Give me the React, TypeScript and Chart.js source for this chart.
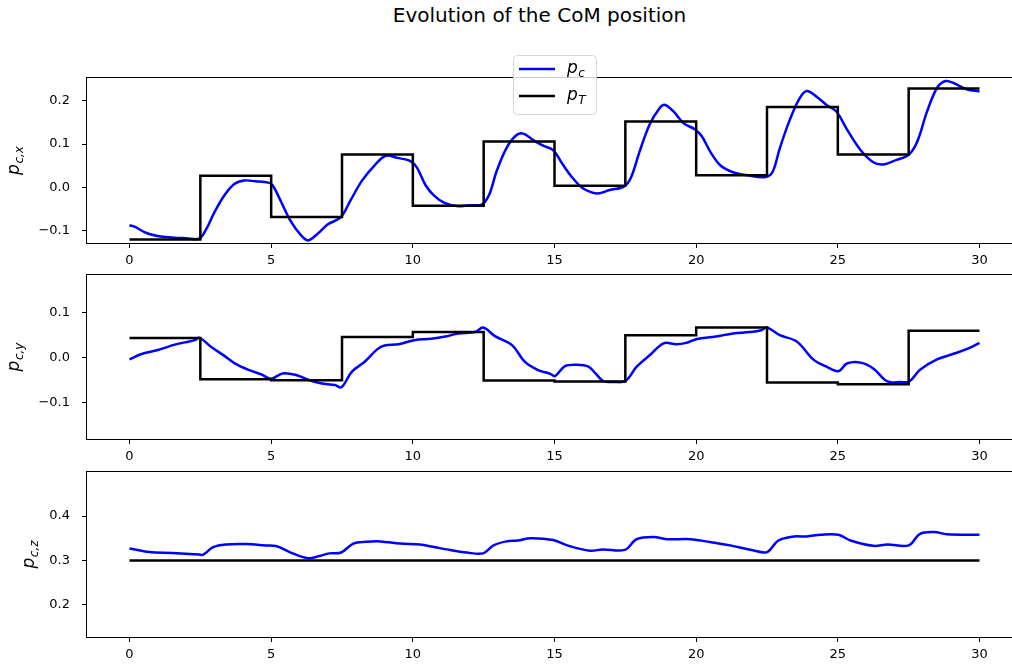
import React, { useEffect, useRef } from 'react';
import { Chart, registerables } from 'chart.js';

Chart.register(...registerables);

// ---- data ----
const xTickValues = [0, 5, 10, 15, 20, 25, 30];

// reference (target) positions: piecewise constant, one value per step start
const stepTimes = [0, 2.5, 5, 7.5, 10, 12.5, 15, 17.5, 20, 22.5, 25, 27.5, 30];
const targetX = [-0.12, 0.027, -0.068, 0.076, -0.042, 0.106, 0.004, 0.152, 0.028, 0.185, 0.076, 0.228, 0.228];
const targetY = [0.044, -0.048, -0.05, 0.046, 0.057, -0.051, -0.053, 0.05, 0.067, -0.055, -0.059, 0.06, 0.06];
const targetZTimes = [0, 30];
const targetZ = [0.3, 0.3];

// measured CoM position
const comXTimes = [0, 0.2, 0.6, 1.1, 1.6, 2.0, 2.45, 2.7, 3.0, 3.35, 3.7, 4.05, 4.45, 4.9, 5.05, 5.35, 5.7, 6.05, 6.3, 6.65, 7.0, 7.45, 7.8, 8.2, 8.65, 9.05, 9.45, 9.9, 10.15, 10.45, 10.75, 11.1, 11.55, 12.0, 12.45, 12.7, 12.95, 13.3, 13.65, 13.9, 14.25, 14.6, 14.95, 15.3, 15.65, 16.0, 16.5, 16.95, 17.45, 17.7, 18.0, 18.35, 18.7, 18.9, 19.2, 19.55, 19.95, 20.2, 20.5, 20.85, 21.3, 21.8, 22.45, 22.7, 22.95, 23.3, 23.65, 23.9, 24.25, 24.6, 24.95, 25.3, 25.8, 26.25, 26.6, 27.05, 27.5, 27.8, 28.15, 28.5, 28.8, 29.1, 29.55, 30.0];
const comX = [-0.087, -0.091, -0.105, -0.113, -0.116, -0.117, -0.118, -0.097, -0.057, -0.018, 0.008, 0.016, 0.014, 0.011, 0.005, -0.033, -0.079, -0.11, -0.122, -0.106, -0.085, -0.069, -0.03, 0.015, 0.051, 0.073, 0.068, 0.061, 0.045, 0.005, -0.019, -0.035, -0.043, -0.041, -0.039, -0.016, 0.036, 0.09, 0.12, 0.124, 0.109, 0.096, 0.086, 0.052, 0.021, -0.002, -0.014, -0.006, 0.002, 0.023, 0.082, 0.144, 0.182, 0.19, 0.175, 0.148, 0.134, 0.118, 0.082, 0.051, 0.035, 0.028, 0.024, 0.036, 0.09, 0.155, 0.205, 0.222, 0.209, 0.19, 0.175, 0.136, 0.086, 0.058, 0.053, 0.063, 0.075, 0.105, 0.175, 0.229, 0.245, 0.24, 0.226, 0.221];

const comYTimes = [0, 0.4, 1.0, 1.6, 1.95, 2.3, 2.47, 2.9, 3.35, 3.7, 4.2, 4.65, 5.0, 5.4, 5.85, 6.3, 6.75, 7.25, 7.48, 7.85, 8.3, 8.75, 9.0, 9.5, 10.05, 10.65, 11.15, 11.6, 12.2, 12.48, 12.9, 13.5, 13.95, 14.4, 14.85, 15.02, 15.37, 15.78, 16.2, 16.45, 16.72, 17.07, 17.5, 17.9, 18.37, 18.85, 19.3, 19.65, 20.0, 20.7, 21.3, 21.9, 22.3, 22.5, 22.95, 23.55, 24.15, 24.6, 25.02, 25.32, 25.8, 26.25, 26.75, 27.2, 27.52, 27.9, 28.5, 29.2, 29.65, 30.0];
const comY = [-0.004, 0.0075, 0.017, 0.029, 0.034, 0.039, 0.044, 0.023, 0.004, -0.012, -0.027, -0.037, -0.047, -0.035, -0.038, -0.049, -0.057, -0.061, -0.066, -0.031, -0.009, 0.019, 0.027, 0.03, 0.039, 0.042, 0.047, 0.054, 0.057, 0.067, 0.048, 0.028, -0.009, -0.027, -0.036, -0.041, -0.019, -0.016, -0.02, -0.035, -0.052, -0.054, -0.052, -0.02, 0.006, 0.032, 0.03, 0.033, 0.041, 0.047, 0.054, 0.057, 0.061, 0.067, 0.05, 0.036, -0.005, -0.02, -0.03, -0.013, -0.011, -0.024, -0.053, -0.054, -0.053, -0.027, -0.004, 0.011, 0.022, 0.033];

const comZTimes = [0, 0.7, 1.5, 2.45, 2.6, 2.95, 3.4, 4.1, 4.8, 5.2, 5.65, 6.3, 6.7, 7.05, 7.47, 7.9, 8.35, 8.85, 9.55, 10.25, 10.7, 11.2, 11.9, 12.48, 12.85, 13.3, 13.7, 14.15, 14.95, 15.45, 16.25, 16.7, 17.48, 17.9, 18.5, 18.95, 19.8, 20.35, 21.2, 22.0, 22.5, 22.9, 23.45, 23.9, 24.4, 25.02, 25.45, 26.25, 26.75, 27.5, 27.9, 28.4, 28.85, 30.0];
const comZ = [0.327, 0.319, 0.317, 0.3135, 0.313, 0.33, 0.336, 0.337, 0.334, 0.332, 0.319, 0.305, 0.31, 0.316, 0.318, 0.338, 0.342, 0.343, 0.338, 0.336, 0.331, 0.325, 0.318, 0.316, 0.334, 0.343, 0.345, 0.35, 0.346, 0.334, 0.322, 0.325, 0.324, 0.348, 0.353, 0.348, 0.348, 0.343, 0.334, 0.323, 0.319, 0.345, 0.354, 0.354, 0.358, 0.358, 0.345, 0.333, 0.336, 0.334, 0.36, 0.364, 0.359, 0.358];

const yTicksX = [-0.1, 0, 0.1, 0.2];
const yTicksY = [-0.1, 0, 0.1];
const yTicksZ = [0.2, 0.3, 0.4];

// ---- layout ----
const CANVAS_W = 1030;
const CANVAS_H = 668;
const AREA_LEFT = 87;
const AREA_RIGHT = 1022;
const X_AXIS_H = 30;
const FONT = '"DejaVu Sans", "Liberation Sans", sans-serif';
const TICK_SIZE = 13;
const MATH_SIZE = 17;

type Panel = {
  top: number;
  bottom: number;
  yMin: number;
  yMax: number;
  yTicks: number[];
  sub: string;
  labelX: number;
  comT: number[];
  com: number[];
  refT: number[];
  ref: number[];
  legend: boolean;
};

const panels: Panel[] = [
  { top: 78, bottom: 243, yMin: -0.128, yMax: 0.252, yTicks: yTicksX, sub: 'c,x', labelX: 16, comT: comXTimes, com: comX, refT: stepTimes, ref: targetX, legend: true },
  { top: 275, bottom: 439, yMin: -0.181, yMax: 0.184, yTicks: yTicksY, sub: 'c,y', labelX: 16, comT: comYTimes, com: comY, refT: stepTimes, ref: targetY, legend: false },
  { top: 472, bottom: 637, yMin: 0.128, yMax: 0.499, yTicks: yTicksZ, sub: 'c,z', labelX: 31, comT: comZTimes, com: comZ, refT: targetZTimes, ref: targetZ, legend: false },
];

const fmtY = (v: number) => (v < -1e-9 ? '\u2212' : '') + Math.abs(v).toFixed(1);

// draws "p" followed by a smaller lowered subscript, starting at (x, baseline)
function drawMathLabel(ctx: CanvasRenderingContext2D, sub: string, x: number, baseline: number, size: number) {
  ctx.font = `italic ${size}px ${FONT}`;
  const wp = ctx.measureText('p').width;
  ctx.fillText('p', x, baseline);
  ctx.font = `italic ${Math.round(size * 0.7)}px ${FONT}`;
  ctx.fillText(sub, x + wp + 0.5, baseline + size * 0.22);
}

function mathLabelWidth(ctx: CanvasRenderingContext2D, sub: string, size: number) {
  ctx.font = `italic ${size}px ${FONT}`;
  const wp = ctx.measureText('p').width;
  ctx.font = `italic ${Math.round(size * 0.7)}px ${FONT}`;
  return wp + 0.5 + ctx.measureText(sub).width;
}

const framePlugin = {
  id: 'frame',
  afterDatasetsDraw(chart: any) {
    const { ctx, chartArea } = chart;
    ctx.save();
    ctx.strokeStyle = '#000';
    ctx.lineWidth = 1;
    ctx.strokeRect(chartArea.left - 0.5, chartArea.top - 0.5, chartArea.right - chartArea.left + 1, chartArea.bottom - chartArea.top + 1);
    ctx.restore();
  },
};

function axisLabelPlugin(panel: Panel) {
  return {
    id: 'axisLabel',
    afterDraw(chart: any) {
      const { ctx, chartArea } = chart;
      const cy = (chartArea.top + chartArea.bottom) / 2;
      ctx.save();
      ctx.fillStyle = '#000';
      ctx.textBaseline = 'alphabetic';
      ctx.textAlign = 'left';
      ctx.translate(panel.labelX, cy);
      ctx.rotate(-Math.PI / 2);
      const w = mathLabelWidth(ctx, panel.sub, MATH_SIZE);
      drawMathLabel(ctx, panel.sub, -w / 2, 3, MATH_SIZE);
      ctx.restore();
    },
  };
}

const legendPlugin = {
  id: 'customLegend',
  afterDraw(chart: any) {
    const { ctx } = chart;
    const x0 = 513.5, y0 = 55.5, w = 83, h = 59, r = 4;
    ctx.save();
    ctx.beginPath();
    ctx.moveTo(x0 + r, y0);
    ctx.arcTo(x0 + w, y0, x0 + w, y0 + h, r);
    ctx.arcTo(x0 + w, y0 + h, x0, y0 + h, r);
    ctx.arcTo(x0, y0 + h, x0, y0, r);
    ctx.arcTo(x0, y0, x0 + w, y0, r);
    ctx.closePath();
    ctx.fillStyle = 'rgba(255,255,255,0.8)';
    ctx.fill();
    ctx.strokeStyle = '#d6d6d6';
    ctx.lineWidth = 1;
    ctx.stroke();
    const entries = [
      { color: '#0000ff', sub: 'c', y: 69 },
      { color: '#000000', sub: 'T', y: 96 },
    ];
    entries.forEach((e) => {
      ctx.beginPath();
      ctx.strokeStyle = e.color;
      ctx.lineWidth = 2.5;
      ctx.moveTo(519, e.y);
      ctx.lineTo(555, e.y);
      ctx.stroke();
      ctx.fillStyle = '#000';
      ctx.textBaseline = 'alphabetic';
      ctx.textAlign = 'left';
      drawMathLabel(ctx, e.sub, 567, e.y + 4, MATH_SIZE);
    });
    ctx.restore();
  },
};

function makeConfig(panel: Panel): any {
  const tickFont = { family: FONT, size: TICK_SIZE };
  const plugins: any[] = [framePlugin, axisLabelPlugin(panel)];
  if (panel.legend) plugins.push(legendPlugin);
  return {
    type: 'line',
    data: {
      datasets: [
        {
          label: 'p_T',
          data: panel.refT.map((t, i) => ({ x: t, y: panel.ref[i] })),
          borderColor: '#000000',
          borderWidth: 2.5,
          pointRadius: 0,
          stepped: true,
          fill: false,
        },
        {
          label: 'p_c',
          data: panel.comT.map((t, i) => ({ x: t, y: panel.com[i] })),
          borderColor: '#0000ff',
          borderWidth: 2.5,
          pointRadius: 0,
          tension: 0.35,
          fill: false,
        },
      ],
    },
    options: {
      animation: false,
      responsive: false,
      devicePixelRatio: 1,
      events: [],
      layout: {
        padding: {
          top: panel.top,
          bottom: CANVAS_H - panel.bottom - X_AXIS_H,
          left: 0,
          right: CANVAS_W - AREA_RIGHT,
        },
      },
      plugins: {
        legend: { display: false },
        tooltip: { enabled: false },
        title: { display: false },
      },
      scales: {
        x: {
          type: 'linear',
          min: -1.5,
          max: 31.5,
          afterBuildTicks: (s: any) => {
            s.ticks = xTickValues.map((v) => ({ value: v }));
          },
          afterFit: (s: any) => {
            s.height = X_AXIS_H;
          },
          grid: { drawOnChartArea: false, drawTicks: true, tickLength: 5, color: '#000', lineWidth: 1 },
          border: { display: false },
          ticks: {
            font: tickFont,
            color: '#000',
            padding: 5,
            maxRotation: 0,
            autoSkip: false,
            callback: (v: number) => String(v),
          },
        },
        y: {
          type: 'linear',
          min: panel.yMin,
          max: panel.yMax,
          afterBuildTicks: (s: any) => {
            s.ticks = panel.yTicks.map((v) => ({ value: v }));
          },
          afterFit: (s: any) => {
            s.width = AREA_LEFT;
          },
          grid: { drawOnChartArea: false, drawTicks: true, tickLength: 5, color: '#000', lineWidth: 1 },
          border: { display: false },
          ticks: {
            font: tickFont,
            color: '#000',
            padding: 12,
            autoSkip: false,
            callback: (v: number) => fmtY(v),
          },
        },
      },
    },
    plugins,
  };
}

export default function App() {
  const ref0 = useRef<HTMLCanvasElement>(null);
  const ref1 = useRef<HTMLCanvasElement>(null);
  const ref2 = useRef<HTMLCanvasElement>(null);
  const refs = [ref0, ref1, ref2];

  useEffect(() => {
    const charts = panels.map((p, i) => new Chart(refs[i].current as HTMLCanvasElement, makeConfig(p)));
    return () => charts.forEach((c) => c.destroy());
  }, []);

  return (
    <div
      style={{
        position: 'fixed',
        left: 0,
        top: 0,
        width: 1012,
        height: 668,
        overflow: 'hidden',
        background: '#ffffff',
      }}
    >
      <div
        style={{
          position: 'absolute',
          left: 0,
          top: 4,
          width: 1079,
          textAlign: 'center',
          fontFamily: FONT,
          fontSize: 20,
          lineHeight: '23px',
          color: '#000',
          whiteSpace: 'nowrap',
        }}
      >
        Evolution of the CoM position
      </div>
      {refs.map((r, i) => (
        <canvas
          key={i}
          ref={r}
          width={CANVAS_W}
          height={CANVAS_H}
          style={{ position: 'absolute', left: 0, top: 0, width: CANVAS_W, height: CANVAS_H }}
        />
      ))}
    </div>
  );
}
